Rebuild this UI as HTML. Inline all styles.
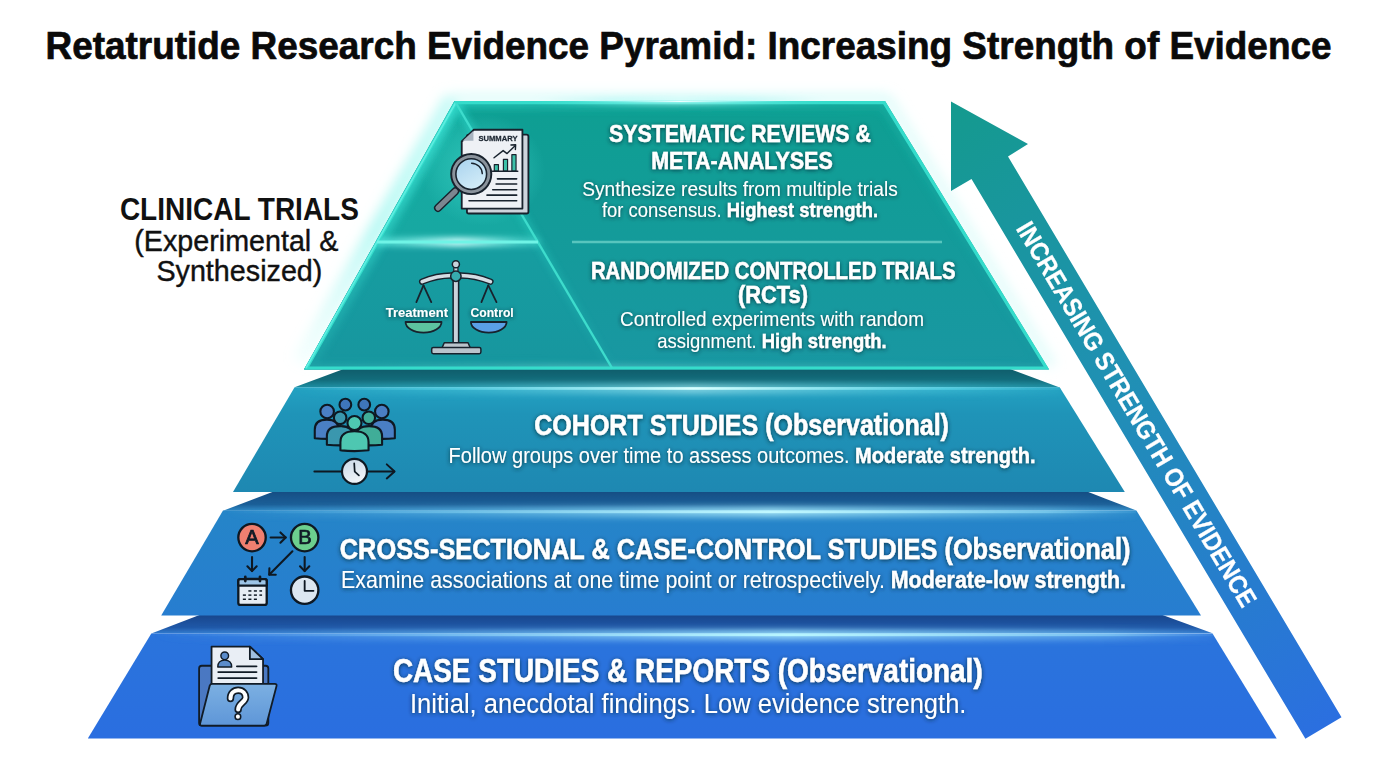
<!DOCTYPE html>
<html><head><meta charset="utf-8">
<style>
html,body{margin:0;padding:0;background:#fff;width:1376px;height:768px;overflow:hidden}
svg{display:block}
text{font-family:"Liberation Sans",sans-serif}
</style></head>
<body>
<svg width="1376" height="768" viewBox="0 0 1376 768">
<defs>
  <linearGradient id="gTop" x1="0" y1="101" x2="0" y2="369" gradientUnits="userSpaceOnUse">
    <stop offset="0" stop-color="#0e9f92"/>
    <stop offset="1" stop-color="#1997a2"/>
  </linearGradient>
  <linearGradient id="gCoh" x1="0" y1="387" x2="0" y2="492" gradientUnits="userSpaceOnUse">
    <stop offset="0" stop-color="#23a2c2"/>
    <stop offset="0.25" stop-color="#1f94b8"/>
    <stop offset="1" stop-color="#1e88b2"/>
  </linearGradient>
  <linearGradient id="gCross" x1="0" y1="510" x2="0" y2="615" gradientUnits="userSpaceOnUse">
    <stop offset="0" stop-color="#2585c8"/>
    <stop offset="1" stop-color="#277dd0"/>
  </linearGradient>
  <linearGradient id="gCase" x1="0" y1="633" x2="0" y2="738" gradientUnits="userSpaceOnUse">
    <stop offset="0" stop-color="#2a74dc"/>
    <stop offset="1" stop-color="#2a6ee0"/>
  </linearGradient>
  <linearGradient id="gArrow" x1="951" y1="101" x2="1323" y2="728" gradientUnits="userSpaceOnUse">
    <stop offset="0" stop-color="#149a8e"/>
    <stop offset="0.45" stop-color="#2090b4"/>
    <stop offset="1" stop-color="#2b6fe0"/>
  </linearGradient>
  <filter id="ts" x="-10%" y="-30%" width="120%" height="160%">
    <feGaussianBlur in="SourceAlpha" stdDeviation="2"/>
    <feOffset dx="0" dy="1.2" result="b"/>
    <feFlood flood-color="#002a34" flood-opacity="0.85"/>
    <feComposite in2="b" operator="in"/>
    <feMerge><feMergeNode/><feMergeNode in="SourceGraphic"/></feMerge>
  </filter>
  <linearGradient id="gFold" x1="0" y1="0" x2="0" y2="1">
    <stop offset="0" stop-color="#7cb0e2"/>
    <stop offset="1" stop-color="#5e96d8"/>
  </linearGradient>
  <filter id="bl3" x="-20%" y="-200%" width="140%" height="500%"><feGaussianBlur stdDeviation="3"/></filter>
  <filter id="bl4" x="-20%" y="-20%" width="140%" height="140%"><feGaussianBlur stdDeviation="4"/></filter>
  <filter id="bl6" x="-20%" y="-20%" width="140%" height="140%"><feGaussianBlur stdDeviation="6"/></filter>
  <clipPath id="cpTop"><polygon points="454.5,101 885,101 1049,369.5 304,369.5"/></clipPath>
  <linearGradient id="gFacet" x1="0" y1="101" x2="0" y2="369" gradientUnits="userSpaceOnUse">
    <stop offset="0" stop-color="#15ac9f"/>
    <stop offset="0.5" stop-color="#17a8a2"/>
    <stop offset="0.55" stop-color="#169da0"/>
    <stop offset="1" stop-color="#17969f"/>
  </linearGradient>
  <linearGradient id="hlDiv" x1="376" y1="0" x2="539" y2="0" gradientUnits="userSpaceOnUse">
    <stop offset="0" stop-color="#5ff5e8" stop-opacity="0.6"/>
    <stop offset="0.5" stop-color="#c8fffb" stop-opacity="1"/>
    <stop offset="1" stop-color="#5ff5e8" stop-opacity="0.4"/>
  </linearGradient>
  <linearGradient id="gBevCoh" x1="0" y1="369" x2="0" y2="387" gradientUnits="userSpaceOnUse">
    <stop offset="0" stop-color="#0f5d6b"/>
    <stop offset="0.6" stop-color="#136c7b"/>
    <stop offset="1" stop-color="#1b8a9e"/>
  </linearGradient>
  <linearGradient id="gBevCross" x1="0" y1="492" x2="0" y2="510" gradientUnits="userSpaceOnUse">
    <stop offset="0" stop-color="#154e84"/>
    <stop offset="0.7" stop-color="#1b5f98"/>
    <stop offset="1" stop-color="#2a82c0"/>
  </linearGradient>
  <linearGradient id="gBevCase" x1="0" y1="615" x2="0" y2="633" gradientUnits="userSpaceOnUse">
    <stop offset="0" stop-color="#18468c"/>
    <stop offset="0.7" stop-color="#1f58a8"/>
    <stop offset="1" stop-color="#2f78cc"/>
  </linearGradient>
  <linearGradient id="hlCoh" x1="295" y1="0" x2="1060" y2="0" gradientUnits="userSpaceOnUse">
    <stop offset="0" stop-color="#6fe6f2" stop-opacity="0"/>
    <stop offset="0.2" stop-color="#6fe6f2" stop-opacity="0.45"/>
    <stop offset="0.52" stop-color="#d8ffff" stop-opacity="1"/>
    <stop offset="0.85" stop-color="#6fe6f2" stop-opacity="0.5"/>
    <stop offset="1" stop-color="#6fe6f2" stop-opacity="0.1"/>
  </linearGradient>
  <linearGradient id="hlCross" x1="223" y1="0" x2="1136" y2="0" gradientUnits="userSpaceOnUse">
    <stop offset="0" stop-color="#8edcf8" stop-opacity="0"/>
    <stop offset="0.25" stop-color="#9ee6fb" stop-opacity="0.4"/>
    <stop offset="0.6" stop-color="#c0f8ff" stop-opacity="1"/>
    <stop offset="0.9" stop-color="#9ee6fb" stop-opacity="0.5"/>
    <stop offset="1" stop-color="#8edcf8" stop-opacity="0.1"/>
  </linearGradient>
  <linearGradient id="hlCase" x1="151" y1="0" x2="1213" y2="0" gradientUnits="userSpaceOnUse">
    <stop offset="0" stop-color="#8ed0f8" stop-opacity="0"/>
    <stop offset="0.25" stop-color="#9ee4fc" stop-opacity="0.4"/>
    <stop offset="0.6" stop-color="#b8f6ff" stop-opacity="1"/>
    <stop offset="0.9" stop-color="#9ee4fc" stop-opacity="0.5"/>
    <stop offset="1" stop-color="#8ed0f8" stop-opacity="0.1"/>
  </linearGradient>
  <filter id="bl10" x="-20%" y="-30%" width="140%" height="160%"><feGaussianBlur stdDeviation="9"/></filter>
  <linearGradient id="gGlow" x1="300" y1="0" x2="1050" y2="0" gradientUnits="userSpaceOnUse">
    <stop offset="0" stop-color="#8ef6ee" stop-opacity="1"/>
    <stop offset="0.45" stop-color="#a6f7f2" stop-opacity="0.85"/>
    <stop offset="1" stop-color="#c6faf7" stop-opacity="0.35"/>
  </linearGradient>
  <linearGradient id="gInner" x1="300" y1="0" x2="1050" y2="0" gradientUnits="userSpaceOnUse">
    <stop offset="0" stop-color="#2ee0d0" stop-opacity="0.85"/>
    <stop offset="0.4" stop-color="#2cd4c6" stop-opacity="0.45"/>
    <stop offset="1" stop-color="#2cd4c6" stop-opacity="0.15"/>
  </linearGradient>
  <linearGradient id="hlBot" x1="300" y1="0" x2="1050" y2="0" gradientUnits="userSpaceOnUse">
    <stop offset="0" stop-color="#9ffcf4" stop-opacity="0.2"/>
    <stop offset="0.35" stop-color="#b8fff8" stop-opacity="0.9"/>
    <stop offset="1" stop-color="#9ffcf4" stop-opacity="0.2"/>
  </linearGradient>
  <linearGradient id="gMaskV" x1="0" y1="85" x2="0" y2="372" gradientUnits="userSpaceOnUse">
    <stop offset="0" stop-color="#fff"/>
    <stop offset="0.4" stop-color="#b0b0b0"/>
    <stop offset="0.65" stop-color="#666"/>
    <stop offset="1" stop-color="#181818"/>
  </linearGradient>
  <mask id="mGlow" maskUnits="userSpaceOnUse" x="0" y="0" width="1376" height="768">
    <rect x="0" y="0" width="1376" height="768" fill="url(#gMaskV)"/>
  </mask>
  <radialGradient id="rHalo">
    <stop offset="0" stop-color="#5fe6da" stop-opacity="0.5"/>
    <stop offset="0.7" stop-color="#3fd8cc" stop-opacity="0.22"/>
    <stop offset="1" stop-color="#3fd8cc" stop-opacity="0"/>
  </radialGradient>
  <linearGradient id="gGlowL" x1="0" y1="98" x2="0" y2="362" gradientUnits="userSpaceOnUse">
    <stop offset="0" stop-color="#b5f9f4" stop-opacity="0.75"/>
    <stop offset="0.5" stop-color="#a8f7f1" stop-opacity="0.8"/>
    <stop offset="1" stop-color="#c8fbf8" stop-opacity="0.2"/>
  </linearGradient>
  <linearGradient id="gClock" x1="0" y1="0" x2="0.4" y2="1">
    <stop offset="0" stop-color="#c9d8e8"/>
    <stop offset="1" stop-color="#f0f4f8"/>
  </linearGradient>
  <clipPath id="cpCase"><polygon points="199.5,615 1162.5,615 1212.5,633.3 1276.7,738.5 87.8,738.5 151.3,633.6"/></clipPath>
  <clipPath id="cpCross"><polygon points="273.7,491.5 1087,491.5 1136.4,510.6 1201,615.5 161.2,615.5 223,510.7"/></clipPath>
  <clipPath id="cpCoh"><polygon points="343.4,369 1010,369 1059.7,387.4 1124.8,492 233,492 294.6,387.3"/></clipPath>
  <radialGradient id="rHot">
    <stop offset="0" stop-color="#f0ffff" stop-opacity="1"/>
    <stop offset="0.5" stop-color="#9ff8f4" stop-opacity="0.6"/>
    <stop offset="1" stop-color="#7ff0ea" stop-opacity="0"/>
  </radialGradient>
  <linearGradient id="gLens" x1="0" y1="0" x2="0.6" y2="1">
    <stop offset="0" stop-color="#a8d2ee"/>
    <stop offset="1" stop-color="#d2ecf8"/>
  </linearGradient>
</defs>
<rect width="1376" height="768" fill="#fff"/>

<!-- Title -->
<text x="45.5" y="58.8" font-size="38.8" font-weight="bold" fill="#0a0a0a" stroke="#0a0a0a" stroke-width="0.7" textLength="1286" lengthAdjust="spacingAndGlyphs">Retatrutide Research Evidence Pyramid: Increasing Strength of Evidence</text>

<!-- Left label -->
<g fill="#111" text-anchor="middle">
  <text x="239.4" y="219.5" font-size="32" font-weight="bold" textLength="239" lengthAdjust="spacingAndGlyphs">CLINICAL TRIALS</text>
  <text x="236.3" y="250.8" font-size="30" stroke="#111" stroke-width="0.4" textLength="204" lengthAdjust="spacingAndGlyphs">(Experimental &amp;</text>
  <text x="239.4" y="280.8" font-size="30" stroke="#111" stroke-width="0.4" textLength="166" lengthAdjust="spacingAndGlyphs">Synthesized)</text>
</g>

<!-- Outer glow of top layer -->
<g filter="url(#bl6)">
  <line x1="452" y1="98" x2="300" y2="362" stroke="url(#gGlowL)" stroke-width="16"/>
  <line x1="452" y1="98" x2="888" y2="98" stroke="#c4faf6" stroke-width="10" opacity="0.55"/>
  <line x1="888" y1="98" x2="1052" y2="366" stroke="#c4faf6" stroke-width="10" opacity="0.5"/>
</g>

<!-- Arrow -->
<polygon points="951,101.5 1028,144 1008,156.5 1341.5,717.3 1305.4,738.8 971.5,179 951,191" fill="url(#gArrow)"/>

<!-- Case layer -->
<polygon points="199.5,615 1162.5,615 1212.5,633.3 151.3,633.6" fill="url(#gBevCase)"/>
<polygon points="151.3,633.4 1212.5,633.4 1276.7,738.5 87.8,738.5" fill="url(#gCase)"/>
<g clip-path="url(#cpCase)">
<rect x="151" y="630" width="1062" height="10" fill="url(#hlCase)" filter="url(#bl3)" opacity="0.75"/>
<rect x="151" y="633.4" width="1062" height="2.8" fill="url(#hlCase)"/>
</g>
<!-- Cross layer -->
<polygon points="273.7,491.5 1087,491.5 1136.4,510.6 223,510.7" fill="url(#gBevCross)"/>
<polygon points="223,510.6 1136.4,510.6 1201,615.5 161.2,615.5" fill="url(#gCross)"/>
<g clip-path="url(#cpCross)">
<rect x="223" y="507" width="913" height="10" fill="url(#hlCross)" filter="url(#bl3)" opacity="0.75"/>
<rect x="223" y="510.4" width="913" height="2.8" fill="url(#hlCross)"/>
</g>
<!-- Cohort layer -->
<polygon points="343.4,369 1010,369 1059.7,387.4 294.6,387.3" fill="url(#gBevCoh)"/>
<polygon points="294.6,387.3 1059.7,387.3 1124.8,492 233,492" fill="url(#gCoh)"/>
<g clip-path="url(#cpCoh)">
<rect x="295" y="384" width="765" height="10" fill="url(#hlCoh)" filter="url(#bl3)" opacity="0.5"/>
<rect x="295" y="387.2" width="765" height="2.6" fill="url(#hlCoh)"/>
</g>
<!-- Top layer -->
<polygon points="454.5,101 885,101 1049,369.5 304,369.5" fill="url(#gTop)"/>
<polygon points="454.5,101 612,369.5 304,369.5" fill="url(#gFacet)"/>
<g clip-path="url(#cpTop)">
  <g mask="url(#mGlow)">
  <polygon points="454.5,101 885,101 1049,369.5 304,369.5" fill="none" stroke="url(#gInner)" stroke-width="14" filter="url(#bl4)"/>
  <line x1="455" y1="101" x2="304" y2="369.5" stroke="#3fe2d6" stroke-width="14" filter="url(#bl4)" opacity="0.75"/>
  <line x1="455" y1="101" x2="612" y2="369" stroke="#2cd4c6" stroke-width="8" filter="url(#bl3)" opacity="0.6"/>
  </g>
  <rect x="300" y="365" width="760" height="7" fill="url(#hlBot)" filter="url(#bl3)" opacity="0.35"/>
  <rect x="376" y="238" width="163" height="8" fill="url(#hlDiv)" filter="url(#bl3)"/>
</g>
<polygon points="456,102.6 884.1,102.6 1046.4,368 306.7,368" fill="none" stroke="#35dccb" stroke-width="3.2" stroke-linejoin="miter"/>
<line x1="455.5" y1="103" x2="306" y2="368" stroke="#62f0e4" stroke-width="1.6" opacity="0.9"/>
<ellipse cx="680" cy="100.5" rx="150" ry="5" fill="url(#rHot)" filter="url(#bl3)"/>
<ellipse cx="680" cy="101.5" rx="110" ry="1.6" fill="url(#rHot)"/>
<ellipse cx="462" cy="242" rx="60" ry="3" fill="url(#rHot)" filter="url(#bl3)" opacity="0.8"/>
<line x1="456" y1="103" x2="612" y2="368" stroke="#3ddccc" stroke-width="2.4"/>
<line x1="377" y1="242" x2="538" y2="242" stroke="#6ff4e6" stroke-width="3"/>
<line x1="572" y1="242" x2="942" y2="242" stroke="#60cac2" stroke-width="2.6" opacity="0.9"/>

<!-- ICON 1: magnifier + document -->
<ellipse cx="483" cy="170" rx="62" ry="56" fill="url(#rHalo)"/>
<g transform="translate(425,120) scale(0.13024)" stroke="#18222d" stroke-linejoin="round" stroke-linecap="round">
  <rect x="322" y="112" width="472" height="606" rx="14" fill="#cdd4dc" stroke-width="14"/>
  <path d="M375,75 L748,75 L748,680 L282,680 L282,165 Z" fill="#eef1f5" stroke-width="14"/>
  <path d="M290,160 L372,82 L372,160 Z" fill="#a9b4c0" stroke="none"/>
  <text x="410" y="160" font-size="62" font-weight="bold" fill="#1c2631" stroke="#1c2631" stroke-width="2" textLength="300" lengthAdjust="spacingAndGlyphs">SUMMARY</text>
  <polyline points="530,290 600,235 630,258 692,198" fill="none" stroke-width="11"/>
  <polyline points="660,192 696,190 694,226" fill="none" stroke-width="11"/>
  <rect x="532" y="342" width="32" height="50" fill="#3cc0a8" stroke-width="9"/>
  <rect x="602" y="302" width="32" height="90" fill="#3cc0a8" stroke-width="9"/>
  <rect x="667" y="266" width="32" height="126" fill="#3cc0a8" stroke-width="9"/>
  <line x1="518" y1="394" x2="712" y2="394" stroke-width="12"/>
  <line x1="556" y1="452" x2="704" y2="452" stroke-width="12"/>
  <line x1="546" y1="492" x2="704" y2="492" stroke-width="12"/>
  <line x1="520" y1="535" x2="704" y2="535" stroke-width="12"/>
  <line x1="476" y1="577" x2="704" y2="577" stroke-width="12"/>
  <line x1="338" y1="620" x2="704" y2="620" stroke-width="12"/>
  <line x1="232" y1="548" x2="100" y2="675" stroke-width="62"/>
  <line x1="232" y1="548" x2="100" y2="675" stroke="#7c8690" stroke-width="40"/>
  <circle cx="355" cy="415" r="154" fill="#8a939c" stroke-width="15"/>
  <circle cx="355" cy="415" r="118" fill="url(#gLens)" stroke-width="12"/>
  <path d="M358,332 A84,84 0 0 1 440,412" fill="none" stroke-width="11"/>
</g>

<!-- ICON 2: balance scale -->
<g transform="translate(380,255) scale(0.13672)" stroke="#18222d" stroke-linejoin="round" stroke-linecap="round">
  <line x1="318" y1="222" x2="266" y2="345" stroke-width="13"/>
  <line x1="318" y1="222" x2="375" y2="345" stroke-width="13"/>
  <line x1="792" y1="222" x2="742" y2="345" stroke-width="13"/>
  <line x1="792" y1="222" x2="852" y2="345" stroke-width="13"/>
  <rect x="535" y="180" width="40" height="470" fill="#c9d3db" stroke-width="11"/>
  <path d="M470,642 H644 L660,678 H454 Z" fill="#b9c4cc" stroke-width="11"/>
  <rect x="378" y="676" width="360" height="46" rx="12" fill="#b9c4cc" stroke-width="11"/>
  <path d="M530,150 Q420,148 308,195" fill="none" stroke-width="46"/>
  <path d="M580,150 Q690,148 808,195" fill="none" stroke-width="46"/>
  <path d="M530,150 Q420,148 308,195" fill="none" stroke="#d5dde4" stroke-width="26"/>
  <path d="M580,150 Q690,148 808,195" fill="none" stroke="#d5dde4" stroke-width="26"/>
  <rect x="540" y="85" width="30" height="40" fill="#c9d3db" stroke-width="9"/>
  <circle cx="555" cy="68" r="26" fill="#c9d3db" stroke-width="11"/>
  <circle cx="555" cy="155" r="38" fill="#37abae" stroke-width="11"/>
  <path d="M187,490 H450 A131.5,78 0 0 1 187,490 Z" fill="#5cc3a0" stroke-width="13"/>
  <path d="M665,490 H926 A130.5,78 0 0 1 665,490 Z" fill="#5a9fe6" stroke-width="13"/>
</g>
<g fill="#fff" filter="url(#ts)" font-weight="bold" font-size="13">
  <text x="385.7" y="316.8" textLength="62.3" lengthAdjust="spacingAndGlyphs">Treatment</text>
  <text x="470.5" y="316.8" textLength="43.2" lengthAdjust="spacingAndGlyphs">Control</text>
</g>

<!-- ICON 3: cohort -->
<g transform="translate(305,392) scale(0.1302)" stroke="#0e1822" stroke-width="16" stroke-linejoin="round" stroke-linecap="round">
  <circle cx="310" cy="97" r="45" fill="#3f76ba"/>
  <circle cx="455" cy="97" r="45" fill="#3f76ba"/>
  <path d="M75,355 V290 Q75,212 168,212 Q260,212 260,290 V355 Q170,365 75,355 Z" fill="#4a7fc4"/>
  <path d="M505,355 V290 Q505,212 597,212 Q690,212 690,290 V355 Q600,365 505,355 Z" fill="#4a7fc4"/>
  <circle cx="170" cy="150" r="52" fill="#4a7fc4"/>
  <circle cx="590" cy="150" r="52" fill="#4a7fc4"/>
  <path d="M168,405 V340 Q168,262 270,262 Q372,262 372,340 V405 Q270,415 168,405 Z" fill="#3a97ae"/>
  <path d="M392,405 V340 Q392,262 492,262 Q592,262 592,340 V405 Q492,415 392,405 Z" fill="#40ad98"/>
  <circle cx="270" cy="198" r="48" fill="#3a97ae"/>
  <circle cx="490" cy="198" r="48" fill="#40ad98"/>
  <path d="M272,448 V385 Q272,302 380,302 Q488,302 488,385 V448 Q380,460 272,448 Z" fill="#4ec7b1"/>
  <circle cx="380" cy="238" r="54" fill="#4ec7b1"/>
  <line x1="72" y1="610" x2="685" y2="610" stroke-width="15"/>
  <polyline points="628,556 688,610 628,664" fill="none" stroke-width="15"/>
  <circle cx="380" cy="610" r="96" fill="url(#gClock)" stroke-width="17"/>
  <polyline points="378,548 382,612 414,640" fill="none" stroke-width="13"/>
</g>

<!-- ICON 4: A/B -->
<g transform="translate(230,518) scale(0.1224)" stroke="#0e1822" stroke-width="19" stroke-linejoin="round" stroke-linecap="round">
  <circle cx="180" cy="160" r="112" fill="#f07f70"/>
  <circle cx="610" cy="160" r="112" fill="#6ccf8e"/>
  <text x="180" y="215" text-anchor="middle" font-size="165" fill="#111b26" stroke="#111b26" stroke-width="6">A</text>
  <text x="612" y="215" text-anchor="middle" font-size="165" fill="#111b26" stroke="#111b26" stroke-width="6">B</text>
  <line x1="332" y1="160" x2="455" y2="160" stroke-width="17"/>
  <polyline points="412,118 455,160 412,202" fill="none" stroke-width="17"/>
  <line x1="180" y1="318" x2="180" y2="432" stroke-width="17"/>
  <polyline points="142,395 180,434 218,395" fill="none" stroke-width="17"/>
  <line x1="510" y1="272" x2="322" y2="462" stroke-width="17"/>
  <polyline points="322,410 320,464 374,464" fill="none" stroke-width="17"/>
  <line x1="610" y1="318" x2="610" y2="432" stroke-width="17"/>
  <polyline points="572,395 610,434 648,395" fill="none" stroke-width="17"/>
  <rect x="68" y="500" width="232" height="210" rx="16" fill="#e6edf4"/>
  <path d="M68,552 V516 Q68,500 84,500 H284 Q300,500 300,516 V552 Z" fill="#9cc4e6"/>
  <line x1="125" y1="480" x2="125" y2="515" stroke-width="22"/>
  <line x1="245" y1="480" x2="245" y2="515" stroke-width="22"/>
  <line x1="125" y1="493" x2="245" y2="493" stroke-width="10"/>
  <g stroke-width="12" stroke-linecap="butt">
   <line x1="150" y1="596" x2="175" y2="596"/><line x1="195" y1="596" x2="220" y2="596"/><line x1="240" y1="596" x2="262" y2="596"/>
   <line x1="105" y1="630" x2="130" y2="630"/><line x1="150" y1="630" x2="175" y2="630"/><line x1="195" y1="630" x2="220" y2="630"/><line x1="240" y1="630" x2="262" y2="630"/>
   <line x1="105" y1="664" x2="130" y2="664"/><line x1="150" y1="664" x2="175" y2="664"/><line x1="195" y1="664" x2="220" y2="664"/>
  </g>
  <circle cx="610" cy="590" r="112" fill="#dce7f1"/>
  <polyline points="610,515 610,595 682,595" fill="none" stroke-width="15"/>
</g>

<!-- ICON 5: folder -->
<g transform="translate(190,640) scale(0.11976)" stroke="#111b26" stroke-width="15" stroke-linejoin="round" stroke-linecap="round">
  <rect x="76" y="215" width="578" height="500" rx="22" fill="#4a78c2"/>
  <path d="M180,55 H500 L610,160 V370 H180 Z" fill="#e9eef5"/>
  <path d="M500,55 V160 H610 Z" fill="#9fc0e2"/>
  <circle cx="290" cy="132" r="32" fill="#5b8ccb" stroke-width="12"/>
  <path d="M232,225 Q232,168 290,168 Q348,168 348,225 Z" fill="#5b8ccb" stroke-width="12"/>
  <line x1="392" y1="220" x2="555" y2="220" stroke-width="16"/>
  <line x1="236" y1="268" x2="555" y2="268" stroke-width="16"/>
  <line x1="236" y1="318" x2="555" y2="318" stroke-width="16"/>
  <path d="M185,366 H708 Q728,366 722,386 L640,700 Q636,715 620,715 H100 Q80,715 85,695 L165,380 Q170,366 185,366 Z" fill="url(#gFold)"/>
  <path d="M338,488 C338,445 368,420 402,420 C440,420 464,447 464,480 C464,520 402,528 402,580" fill="none" stroke="#111b26" stroke-width="62" stroke-linecap="round"/>
  <path d="M338,488 C338,445 368,420 402,420 C440,420 464,447 464,480 C464,520 402,528 402,580" fill="none" stroke="#fff" stroke-width="34" stroke-linecap="round"/>
  <circle cx="400" cy="640" r="30" fill="#111b26" stroke="none"/>
  <circle cx="400" cy="640" r="17" fill="#fff" stroke="none"/>
</g>

<!-- Texts -->
<g fill="#fff" text-anchor="middle" filter="url(#ts)">
  <text x="740" y="141.7" font-size="24.3" font-weight="bold" stroke="#fff" stroke-width="0.45" textLength="262" lengthAdjust="spacingAndGlyphs">SYSTEMATIC REVIEWS &amp;</text>
  <text x="742" y="168.6" font-size="24.3" font-weight="bold" stroke="#fff" stroke-width="0.45" textLength="181.6" lengthAdjust="spacingAndGlyphs">META-ANALYSES</text>
  <text x="740" y="195.6" font-size="20.8" textLength="315.6" lengthAdjust="spacingAndGlyphs">Synthesize results from multiple trials</text>
  <text x="740" y="216.6" font-size="20.8" textLength="276" lengthAdjust="spacingAndGlyphs">for consensus. <tspan font-weight="bold" stroke="#fff" stroke-width="0.35">Highest strength.</tspan></text>

  <text x="773.3" y="278.8" font-size="24.3" font-weight="bold" stroke="#fff" stroke-width="0.45" textLength="364.8" lengthAdjust="spacingAndGlyphs">RANDOMIZED CONTROLLED TRIALS</text>
  <text x="773" y="302.6" font-size="24.3" font-weight="bold" stroke="#fff" stroke-width="0.45" textLength="69.9" lengthAdjust="spacingAndGlyphs">(RCTs)</text>
  <text x="772" y="326" font-size="20.8" textLength="304" lengthAdjust="spacingAndGlyphs">Controlled experiments with random</text>
  <text x="772" y="347.5" font-size="20.8" textLength="229.5" lengthAdjust="spacingAndGlyphs">assignment. <tspan font-weight="bold" stroke="#fff" stroke-width="0.35">High strength.</tspan></text>

  <text x="741.6" y="434.5" font-size="28.7" font-weight="bold" stroke="#fff" stroke-width="0.45" textLength="414.7" lengthAdjust="spacingAndGlyphs">COHORT STUDIES (Observational)</text>
  <text x="742" y="462.8" font-size="22.8" textLength="587" lengthAdjust="spacingAndGlyphs">Follow groups over time to assess outcomes. <tspan font-weight="bold" stroke="#fff" stroke-width="0.35">Moderate strength.</tspan></text>

  <text x="735.1" y="558.6" font-size="29" font-weight="bold" stroke="#fff" stroke-width="0.45" textLength="790.6" lengthAdjust="spacingAndGlyphs">CROSS-SECTIONAL &amp; CASE-CONTROL STUDIES (Observational)</text>
  <text x="733.5" y="587.9" font-size="23.8" textLength="784.9" lengthAdjust="spacingAndGlyphs">Examine associations at one time point or retrospectively. <tspan font-weight="bold" stroke="#fff" stroke-width="0.35">Moderate-low strength.</tspan></text>

  <text x="687.8" y="681.5" font-size="32.6" font-weight="bold" stroke="#fff" stroke-width="0.45" textLength="589.8" lengthAdjust="spacingAndGlyphs">CASE STUDIES &amp; REPORTS (Observational)</text>
  <text x="688.2" y="713.3" font-size="28.4" textLength="556.5" lengthAdjust="spacingAndGlyphs">Initial, anecdotal findings. Low evidence strength.</text>
</g>

<!-- Arrow text -->
<text transform="translate(1134.9,413.4) rotate(59.2)" x="1.6" y="7.9" text-anchor="middle" fill="#fff" stroke="#fff" stroke-width="0.3" font-size="26" font-weight="bold" textLength="443" lengthAdjust="spacingAndGlyphs">INCREASING STRENGTH OF EVIDENCE</text>

</svg>
</body></html>
